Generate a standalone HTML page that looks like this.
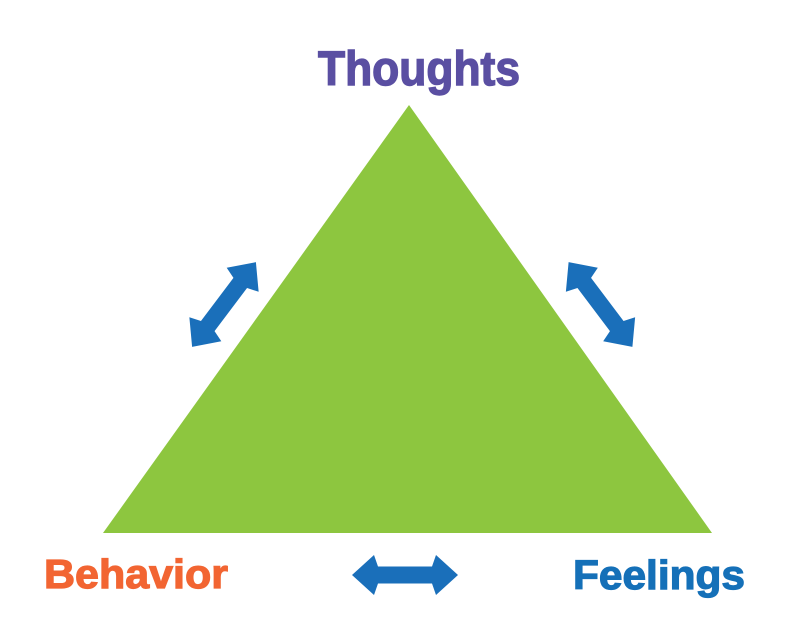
<!DOCTYPE html>
<html>
<head>
<meta charset="utf-8">
<style>
  html, body { margin: 0; padding: 0; background: #ffffff; }
  body { width: 807px; height: 622px; overflow: hidden; }
  svg { display: block; }
  text { font-family: "Liberation Sans", "DejaVu Sans", sans-serif; font-weight: bold; }
</style>
</head>
<body>
<svg width="807" height="622" viewBox="0 0 807 622" xmlns="http://www.w3.org/2000/svg">
  <rect x="0" y="0" width="807" height="622" fill="#ffffff"/>
  <!-- Triangle -->
  <polygon points="409,105 712,533 103,533" fill="#8dc63f"/>

  <defs>
    <polygon id="arr" points="-53,0 -31,-20 -27,-8.5 27,-8.5 31,-20 53,0 31,20 27,8.5 -27,8.5 -31,20" fill="#1a6fba"/>
  </defs>

  <!-- Arrows -->
  <use href="#arr" transform="translate(405,575)"/>
  <use href="#arr" transform="translate(224,304.5) rotate(-53)"/>
  <use href="#arr" transform="translate(600.5,304.5) rotate(53)"/>

  <!-- Labels -->
  <text x="318" y="85" font-size="48" fill="#5a4fa2" stroke="#5a4fa2" stroke-width="1.4" textLength="202" lengthAdjust="spacingAndGlyphs">Thoughts</text>
  <text x="44" y="588" font-size="41" fill="#f26532" stroke="#f26532" stroke-width="1.2" textLength="184" lengthAdjust="spacingAndGlyphs">Behavior</text>
  <text x="573" y="589" font-size="41" fill="#1570b8" stroke="#1570b8" stroke-width="1.2" textLength="172" lengthAdjust="spacingAndGlyphs">Feelings</text>
</svg>
</body>
</html>
